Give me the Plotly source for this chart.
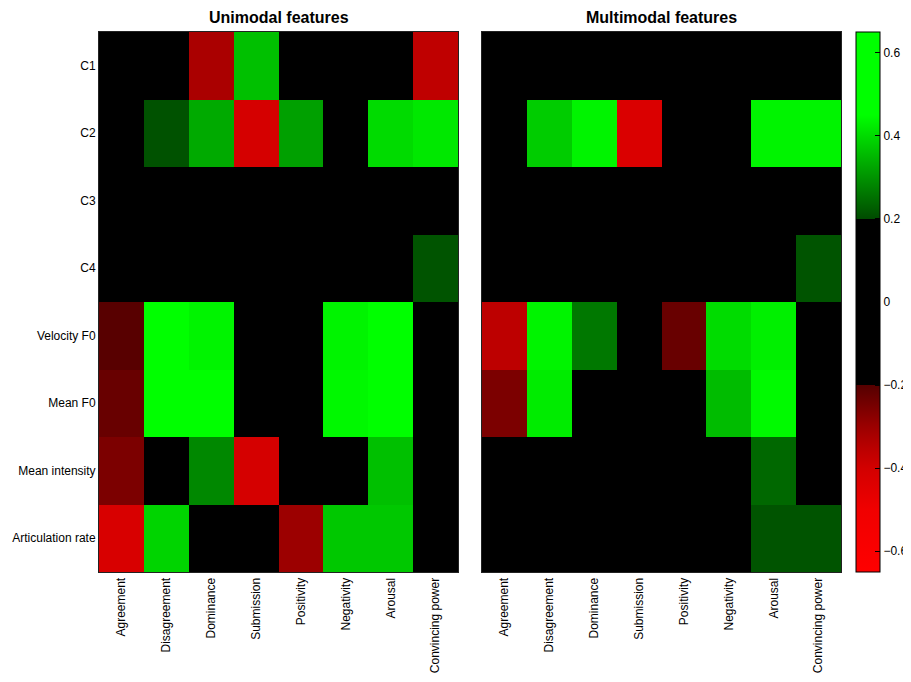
import plotly.graph_objects as go

features = ["C1", "C2", "C3", "C4", "Velocity F0", "Mean F0", "Mean intensity", "Articulation rate"]
dimensions = ["Agreement", "Disagreement", "Dominance", "Submission",
              "Positivity", "Negativity", "Arousal", "Convincing power"]

unimodal = [
    [0, 0, -0.325, 0.362, 0, 0, 0, -0.362],
    [0, 0.21, 0.332, -0.41, 0.318, 0, 0.40, 0.418],
    [0, 0, 0, 0, 0, 0, 0, 0],
    [0, 0, 0, 0, 0, 0, 0, 0.212],
    [-0.205, 0.55, 0.435, 0, 0, 0.435, 0.55, 0],
    [-0.227, 0.55, 0.50, 0, 0, 0.44, 0.52, 0],
    [-0.256, 0, 0.285, -0.41, 0, 0, 0.362, 0],
    [-0.42, 0.39, 0, 0, -0.302, 0.374, 0.374, 0],
]

multimodal = [
    [0, 0, 0, 0, 0, 0, 0, 0],
    [0, 0.379, 0.435, -0.427, 0, 0, 0.435, 0.435],
    [0, 0, 0, 0, 0, 0, 0, 0],
    [0, 0, 0, 0, 0, 0, 0, 0.212],
    [-0.358, 0.435, 0.2625, 0, -0.227, 0.401, 0.429, 0],
    [-0.256, 0.424, 0, 0, 0, 0.357, 0.443, 0],
    [0, 0, 0, 0, 0, 0, 0.24, 0],
    [0, 0, 0, 0, 0, 0, 0.212, 0.212],
]

panel_titles = ["Unimodal features", "Multimodal features"]
colorbar_ticks = [-0.6, -0.4, -0.2, 0, 0.2, 0.4, 0.6]

zmin, zmax = -0.65, 0.65


def t(v):
    return (v - zmin) / (zmax - zmin)


colorscale = [
    [t(-0.65), "rgb(255,0,0)"],
    [t(-0.5), "rgb(240,0,0)"],
    [t(-0.4), "rgb(210,0,0)"],
    [t(-0.35), "rgb(185,0,0)"],
    [t(-0.3), "rgb(155,0,0)"],
    [t(-0.25), "rgb(120,0,0)"],
    [t(-0.2), "rgb(85,0,0)"],
    [t(-0.2) + 1e-5, "rgb(0,0,0)"],
    [t(0.2), "rgb(0,0,0)"],
    [t(0.2) + 1e-5, "rgb(0,75,0)"],
    [t(0.45), "rgb(0,255,0)"],
    [1.0, "rgb(0,255,0)"],
]

# page body adds an 8px offset; figure coordinates are screen coordinates minus 8
W, H = 903, 674
ml, mt = 91, 24
mr = W - 833
mb = H - 564
pw = W - ml - mr

FONT = "Liberation Sans, Arial, sans-serif"

fig = go.Figure()
fig.add_trace(go.Heatmap(z=unimodal, x=dimensions, y=features, coloraxis="coloraxis",
                         xaxis="x", yaxis="y"))
fig.add_trace(go.Heatmap(z=multimodal, x=dimensions, y=features, coloraxis="coloraxis",
                         xaxis="x2", yaxis="y2"))

d1 = [0, (450 - ml) / pw]
d2 = [(474 - ml) / pw, 1]

axis_common = dict(showline=True, linecolor="#222", linewidth=1, mirror=True,
                   showgrid=False, zeroline=False, ticks="", automargin=False,
                   tickfont=dict(family=FONT, size=12, color="black"))

fig.update_layout(
    width=W, height=H,
    margin=dict(l=ml, r=mr, t=mt, b=mb, autoexpand=False),
    paper_bgcolor="white", plot_bgcolor="black",
    font=dict(family=FONT, size=12, color="black"),
    xaxis=dict(domain=d1, tickangle=-90, anchor="y", **axis_common),
    yaxis=dict(domain=[0, 1], autorange="reversed", anchor="x", **axis_common),
    xaxis2=dict(domain=d2, tickangle=-90, anchor="y2", **axis_common),
    yaxis2=dict(domain=[0, 1], autorange="reversed", anchor="x2", showticklabels=False,
                **axis_common),
    coloraxis=dict(
        colorscale=colorscale, cmin=zmin, cmax=zmax,
        colorbar=dict(
            x=(848 - ml) / pw, xanchor="left", xref="paper",
            y=0.5, yanchor="middle", len=1, lenmode="fraction",
            thickness=24, thicknessmode="pixels",
            outlinecolor="black", outlinewidth=1,
            tickvals=colorbar_ticks, ticks="inside", ticklen=5, tickcolor="black",
            tickfont=dict(family=FONT, size=12, color="black"),
            xpad=0, ypad=0,
        ),
    ),
    annotations=[
        dict(text="<b>%s</b>" % panel_titles[0], x=(d1[0] + d1[1]) / 2, y=1, xref="paper",
             yref="paper", xanchor="center", yanchor="bottom", yshift=4, showarrow=False,
             font=dict(size=16, family=FONT, color="black")),
        dict(text="<b>%s</b>" % panel_titles[1], x=(d2[0] + d2[1]) / 2, y=1, xref="paper",
             yref="paper", xanchor="center", yanchor="bottom", yshift=4, showarrow=False,
             font=dict(size=16, family=FONT, color="black")),
    ],
)

fig.write_html("out.html")
